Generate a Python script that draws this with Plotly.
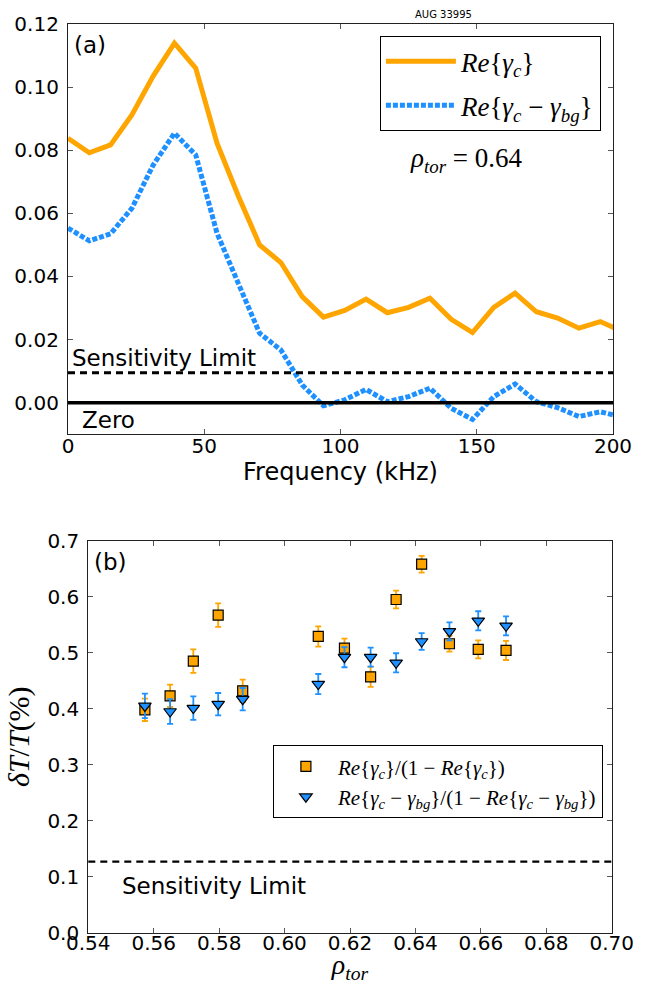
import plotly.graph_objects as go

# ---- (a) coherence spectrum -------------------------------------------------
freq_khz = [0.0, 7.8125, 15.625, 23.4375, 31.25, 39.0625, 46.875, 54.6875,
            62.5, 70.3125, 78.125, 85.9375, 93.75, 101.5625, 109.375, 117.1875,
            125.0, 132.8125, 140.625, 148.4375, 156.25, 164.0625, 171.875,
            179.6875, 187.5, 195.3125, 203.125]
re_gamma_c = [0.0838, 0.0792, 0.0817, 0.0912, 0.1035, 0.1139, 0.1060, 0.0822,
              0.0655, 0.0500, 0.0444, 0.0336, 0.0271, 0.0292, 0.0328, 0.0285,
              0.0302, 0.0331, 0.0264, 0.0222, 0.0302, 0.0347, 0.0288, 0.0268,
              0.0236, 0.0257, 0.0227]
re_gamma_c_bg = [0.0553, 0.0513, 0.0535, 0.0616, 0.0753, 0.0854, 0.0785, 0.0537,
                 0.0378, 0.0220, 0.0167, 0.0056, -0.0010, 0.0009, 0.0042, 0.0003,
                 0.0019, 0.0046, -0.0018, -0.0053, 0.0019, 0.0059, 0.0003, -0.0016,
                 -0.0044, -0.0029, -0.0045]
sens_limit_a = 0.0095
freq_ticks = [0, 50, 100, 150, 200]
coh_ticks = [0.00, 0.02, 0.04, 0.06, 0.08, 0.10, 0.12]

# ---- (b) fluctuation amplitude vs radius ------------------------------------
rho_tor = [0.5573, 0.5650, 0.5721, 0.5797, 0.5872, 0.6103, 0.6183, 0.6263,
           0.6341, 0.6419, 0.6504, 0.6592, 0.6677]
dT_c = [0.398, 0.423, 0.485, 0.567, 0.432, 0.529, 0.508, 0.457, 0.595, 0.658,
        0.516, 0.506, 0.504]
dT_c_err = [0.020, 0.020, 0.021, 0.021, 0.020, 0.018, 0.017, 0.018, 0.016,
            0.015, 0.014, 0.016, 0.017]
dT_cbg = [0.405, 0.395, 0.401, 0.408, 0.417, 0.444, 0.492, 0.492, 0.482, 0.520,
          0.538, 0.557, 0.548]
dT_cbg_err = [0.022, 0.022, 0.021, 0.020, 0.020, 0.018, 0.018, 0.017, 0.017,
              0.015, 0.016, 0.017, 0.017]
sens_limit_b = 0.127
rho_ticks = [0.54, 0.56, 0.58, 0.60, 0.62, 0.64, 0.66, 0.68, 0.70]
dT_ticks = [0.0, 0.1, 0.2, 0.3, 0.4, 0.5, 0.6, 0.7]

W, H = 647, 984
ORANGE = "#FFA500"
BLUE = "#1E90FF"
SANS = "DejaVu Sans"
SERIF = "Liberation Serif"


def px(x):
    return x / W


def py(y):
    return 1 - y / H


fig = go.Figure()

fig.add_trace(go.Scatter(
    x=freq_khz, y=re_gamma_c, mode="lines",
    line=dict(color=ORANGE, width=5),
    name="<i>Re</i>{<i>γ</i><sub><i>c</i></sub>}",
    legend="legend", legendgroup="a1",
    xaxis="x", yaxis="y"))
fig.add_trace(go.Scatter(
    x=freq_khz, y=re_gamma_c_bg, mode="lines",
    line=dict(color=BLUE, width=5, dash="5px,2px"),
    name="<i>Re</i>{<i>γ</i><sub><i>c</i></sub> − <i>γ</i><sub><i>bg</i></sub>}",
    legend="legend", legendgroup="a2",
    xaxis="x", yaxis="y"))

fig.add_trace(go.Scatter(
    x=rho_tor, y=dT_c, mode="markers",
    marker=dict(symbol="square", size=10, color=ORANGE,
                line=dict(color="black", width=1.2)),
    error_y=dict(type="data", array=dT_c_err, color=ORANGE,
                 thickness=1.8, width=3),
    name="<i>Re</i>{<i>γ</i><sub><i>c</i></sub>}/(1 − <i>Re</i>{<i>γ</i><sub><i>c</i></sub>})",
    legend="legend2", legendgroup="b1",
    xaxis="x2", yaxis="y2"))
fig.add_trace(go.Scatter(
    x=rho_tor, y=dT_cbg, mode="markers",
    marker=dict(symbol="triangle-down", size=11, color=BLUE,
                line=dict(color="black", width=1.2)),
    error_y=dict(type="data", array=dT_cbg_err, color=BLUE,
                 thickness=1.8, width=3),
    name="<i>Re</i>{<i>γ</i><sub><i>c</i></sub> − <i>γ</i><sub><i>bg</i></sub>}/(1 − <i>Re</i>{<i>γ</i><sub><i>c</i></sub> − <i>γ</i><sub><i>bg</i></sub>})",
    legend="legend2", legendgroup="b2",
    xaxis="x2", yaxis="y2"))

axis_common = dict(
    showgrid=False, zeroline=False, showline=True, linecolor="#222",
    linewidth=1.2, mirror="ticks", ticks="inside", ticklen=5,
    tickcolor="#555", tickwidth=1, tickfont=dict(family=SANS, size=20, color="black"),
    ticklabelstandoff=4, automargin=False,
)
xaxis_common = dict(axis_common, ticklabelstandoff=-6)

fig.update_layout(
    width=W, height=H,
    margin=dict(l=0, r=0, t=0, b=0, autoexpand=False),
    paper_bgcolor="white", plot_bgcolor="white",
    xaxis=dict(xaxis_common, domain=[px(68), px(613)], range=[0, 200],
               tickvals=freq_ticks, anchor="y",
               title=dict(text="Frequency (kHz)", standoff=2,
                          font=dict(family=SANS, size=24, color="black"))),
    yaxis=dict(axis_common, domain=[py(434.2), py(24)], range=[-0.01, 0.12],
               tickvals=coh_ticks, tickformat=".2f", anchor="x"),
    xaxis2=dict(xaxis_common, domain=[px(88.3), px(611.7)], range=[0.54, 0.70],
                tickvals=rho_ticks, tickformat=".2f", anchor="y2",
                ticklabelstandoff=-8,
                title=dict(text="<i>ρ</i><sub><i>tor</i></sub>", standoff=10,
                           font=dict(family=SERIF, size=28, color="black"))),
    yaxis2=dict(axis_common, domain=[py(932.7), py(540.7)], range=[0, 0.7],
                tickvals=dT_ticks, tickformat=".1f", anchor="x2",
                title=dict(text="<i>δT</i>/<i>T</i>(%)", standoff=8,
                           font=dict(family=SERIF, size=30, color="black"))),
    legend=dict(x=px(600.7), y=py(36), xanchor="right", yanchor="top",
                bgcolor="white", bordercolor="black", borderwidth=1.2,
                font=dict(family=SERIF, size=27, color="black"),
                tracegroupgap=6, itemwidth=70),
    legend2=dict(x=px(602.7), y=py(745), xanchor="right", yanchor="top",
                 bgcolor="white", bordercolor="black", borderwidth=1.2,
                 font=dict(family=SERIF, size=21, color="black"),
                 tracegroupgap=0, itemwidth=54),
    showlegend=True,
)

# reference lines: sensitivity limits and zero
fig.add_shape(type="line", xref="x domain", yref="y", x0=0, x1=1,
              y0=sens_limit_a, y1=sens_limit_a,
              line=dict(color="black", width=3, dash="7px,5px"))
fig.add_shape(type="line", xref="x domain", yref="y", x0=0, x1=1,
              y0=0, y1=0, line=dict(color="black", width=3.5))
fig.add_shape(type="line", xref="x2 domain", yref="y2", x0=0, x1=1,
              y0=sens_limit_b, y1=sens_limit_b,
              line=dict(color="black", width=2.2, dash="7px,5px"))

txt = dict(family=SANS, size=23, color="black")
notes = [
    ("AUG 33995", 443, 14, "center", "middle", dict(family=SANS, size=10, color="black")),
    ("(a)", 72, 45, "left", "middle", txt),
    ("Sensitivity Limit", 70, 358, "left", "middle", txt),
    ("Zero", 80, 420, "left", "middle", txt),
    ("<i>ρ</i><sub><i>tor</i></sub> = 0.64", 408, 160, "left", "middle",
     dict(family=SERIF, size=27, color="black")),
    ("(b)", 92, 562, "left", "middle", txt),
    ("Sensitivity Limit", 120, 886, "left", "middle", txt),
]
for text, x, y, xa, ya, f in notes:
    fig.add_annotation(text=text, x=px(x), y=py(y), xref="paper", yref="paper",
                       xanchor=xa, yanchor=ya, showarrow=False, font=f)

fig.write_html("out.html")
